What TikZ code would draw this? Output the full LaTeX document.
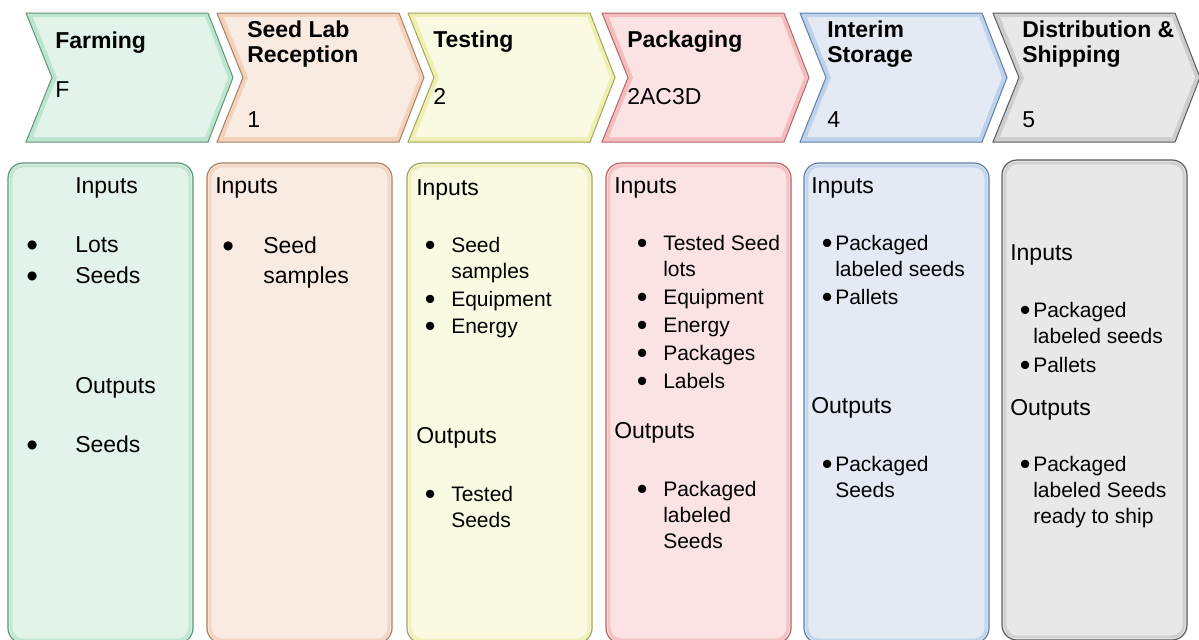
\documentclass[tikz,border=0pt]{standalone}
\usepackage{fontspec}
\setmainfont{Liberation Sans}
\usepackage{graphicx}
% stage colours: body, bevel, outline
\definecolor{FarmFill}{HTML}{E2F3EA}
\definecolor{FarmEdge}{HTML}{A6DDC0}
\definecolor{FarmLine}{HTML}{5E9478}
\definecolor{RecvFill}{HTML}{FAEBE2}
\definecolor{RecvEdge}{HTML}{EFC3A6}
\definecolor{RecvLine}{HTML}{A8805F}
\definecolor{TestFill}{HTML}{FAFAE3}
\definecolor{TestEdge}{HTML}{E9E99A}
\definecolor{TestLine}{HTML}{A3A35E}
\definecolor{PackFill}{HTML}{FBE2E3}
\definecolor{PackEdge}{HTML}{EFA9AA}
\definecolor{PackLine}{HTML}{B86466}
\definecolor{StoreFill}{HTML}{E3EAF4}
\definecolor{StoreEdge}{HTML}{A9C5E4}
\definecolor{StoreLine}{HTML}{5F7FA6}
\definecolor{ShipFill}{HTML}{E8E8E8}
\definecolor{ShipEdge}{HTML}{BEBEBE}
\definecolor{ShipLine}{HTML}{5A5A5A}
\newcommand\titlefont{\fontsize{17.25}{18.75}\selectfont\bfseries}
\newcommand\headfont{\fontsize{17.25}{22.5}\selectfont}
\newcommand\itemfont{\fontsize{15.75}{19.5}\selectfont}
\newcommand\bdot{\raisebox{-0.18em}{\scalebox{1.45}{\textbullet}}}
\newcommand\bul[1]{\llap{\bdot\hspace{#1}}}
% base anchor of a multi-line node sits on its last line
\tikzset{stage layout/.style={%
    x=0.75pt,
    y=-0.75pt,
    every node/.style={%
        anchor=base west, inner sep=0pt, align=left
    }
}}
\tikzset{stage title/.style={font=\titlefont}}
\tikzset{stage code/.style={font=\headfont}}
\tikzset{head/.style={font=\headfont}}
\tikzset{big item/.style={font=\headfont}}
\tikzset{item/.style={font=\itemfont}}
\tikzset{panel/.style={line width=0.9pt, rounded corners=11.25pt}}

\begin{document}
\begin{tikzpicture}[stage layout]
    \useasboundingbox[fill=white] (0,0) rectangle (1199,639);

    % chevrons along the top
    \foreach \cx/\tint in {26/Farm,217/Recv,408/Test,602/Pack,800/Store,993/Ship} {
        \filldraw[draw=\tint Line, fill=\tint Edge!65!\tint Fill, line width=0.75pt]
            (\cx,13) -- ++(182,0) -- ++(25,64.5) -- ++(-25,64.5) -- ++(-182,0) -- ++(26,-64.5) -- cycle;
        \fill[\tint Fill] (\cx+7,17) -- (\cx+179,17) -- (\cx+202,77.5)
            -- (\cx+179,137) -- (\cx+7,137) -- (\cx+31,77.5) -- cycle;
    }

    % panels below
    \foreach \px/\py/\tint in {8/163/Farm,207/163/Recv,407/163/Test,606/163/Pack,804/163/Store,1002/160/Ship} {
        \filldraw[panel, draw=\tint Line, fill=\tint Fill] (\px,\py) rectangle ++(185,480);
        \draw[\tint Edge, line width=2.2pt, opacity=.55, rounded corners=9pt] (\px+3,\py+3) rectangle ++(179,474);
    }

    \node[stage title] (farmT) at (55,48) {Farming};
    \node[stage code] (farmC) at (55,97) {F};
    \node[stage title] (recvT) at (247,62) {Seed Lab\\Reception};
    \node[stage code] (recvC) at (247,127) {1};
    \node[stage title] (testT) at (433,47) {Testing};
    \node[stage code] (testC) at (433,104) {2};
    \node[stage title] (packT) at (627,47) {Packaging};
    \node[stage code] (packC) at (627,104) {2AC3D};
    \node[stage title] (storeT) at (827,62) {Interim\\Storage};
    \node[stage code] (storeC) at (827,127) {4};
    \node[stage title] (shipT) at (1022,62) {Distribution \&\\Shipping};
    \node[stage code] (shipC) at (1022,127) {5};

    % farming
    \node[head] (farmIn) at (75,193) {Inputs};
    \node[big item] (farmI1) at (75,252) {\bul{28pt}Lots};
    \node[big item] (farmI2) at (75,283) {\bul{28pt}Seeds};
    \node[head] (farmOut) at (75,393) {Outputs};
    \node[big item] (farmO1) at (75,452) {\bul{28pt}Seeds};

    % reception
    \node[head] (recvIn) at (215,193) {Inputs};
    \node[big item] (recvI1) at (263,283) {\bul{22pt}Seed\\samples};

    % testing
    \node[head] (testIn) at (416,195) {Inputs};
    \node[item] (testI1) at (451,278) {\bul{11.8pt}Seed\\samples};
    \node[item] (testI2) at (451,306) {\bul{11.8pt}Equipment};
    \node[item] (testI3) at (451,333) {\bul{11.8pt}Energy};
    \node[head] (testOut) at (416,443) {Outputs};
    \node[item] (testO1) at (451,527) {\bul{11.8pt}Tested\\Seeds};

    % packaging
    \node[head] (packIn) at (614,193) {Inputs};
    \node[item] (packI1) at (663,276) {\bul{11.8pt}Tested Seed\\lots};
    \node[item] (packI2) at (663,304) {\bul{11.8pt}Equipment};
    \node[item] (packI3) at (663,332) {\bul{11.8pt}Energy};
    \node[item] (packI4) at (663,360) {\bul{11.8pt}Packages};
    \node[item] (packI5) at (663,388) {\bul{11.8pt}Labels};
    \node[head] (packOut) at (614,438) {Outputs};
    \node[item] (packO1) at (663,548) {\bul{11.8pt}Packaged\\labeled\\Seeds};

    % interim storage
    \node[head] (storeIn) at (811,193) {Inputs};
    \node[item] (storeI1) at (835,276) {\bul{2pt}Packaged\\labeled seeds};
    \node[item] (storeI2) at (835,304) {\bul{2pt}Pallets};
    \node[head] (storeOut) at (811,413) {Outputs};
    \node[item] (storeO1) at (835,497) {\bul{2pt}Packaged\\Seeds};

    % distribution
    \node[head] (shipIn) at (1010,260) {Inputs};
    \node[item] (shipI1) at (1033,343) {\bul{2pt}Packaged\\labeled seeds};
    \node[item] (shipI2) at (1033,372) {\bul{2pt}Pallets};
    \node[head] (shipOut) at (1010,415) {Outputs};
    \node[item] (shipO1) at (1033,523) {\bul{2pt}Packaged\\labeled Seeds\\ready to ship};
\end{tikzpicture}
\end{document}
